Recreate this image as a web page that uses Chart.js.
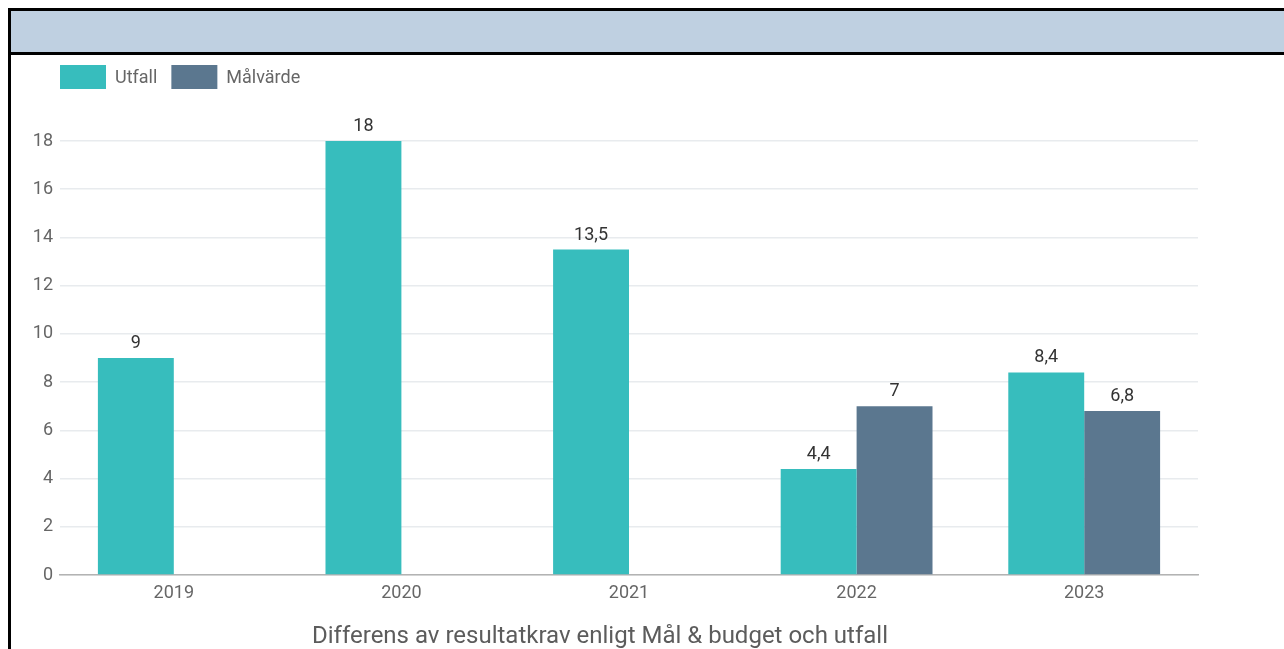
<!DOCTYPE html>
<html>
<head>
<meta charset="utf-8">
<script src="https://cdn.jsdelivr.net/npm/chart.js@4.4.0/dist/chart.umd.min.js"></script>
<style>
  html, body { margin: 0; padding: 0; background: #ffffff; overflow: hidden; width: 1284px; height: 649px; }
  #frame { position: absolute; left: 8px; top: 8px; width: 1400px; height: 800px; border-left: 3px solid #000; border-top: 3px solid #000; box-sizing: content-box; }
  #header { position: absolute; left: 0; top: 0; width: 100%; height: 41px; background: #BFD0E1; border-bottom: 3px solid #000; }
  #wrap { position: absolute; left: 11px; top: 55px; width: 1273px; height: 594px; }
</style>
</head>
<body>
<div id="frame"><div id="header"></div></div>
<div id="wrap"><canvas id="c" width="1273" height="594"></canvas></div>
<script>
const categories = ['2019', '2020', '2021', '2022', '2023'];
const utfall = [9, 18, 13.5, 4.4, 8.4];
const malvarde = [null, null, null, 7, 6.8];
const yTicks = [0, 2, 4, 6, 8, 10, 12, 14, 16, 18];
const seriesNames = ['Utfall', 'Målvärde'];
const chartTitle = 'Differens av resultatkrav enligt Mål & budget och utfall';

const FONT = 'Roboto, "Noto Sans", sans-serif';
const fmt = v => String(v).replace('.', ',');

const customLegend = {
  id: 'customLegend',
  afterDraw(chart) {
    const ctx = chart.ctx;
    ctx.save();
    ctx.font = '18px ' + FONT;
    ctx.textBaseline = 'middle';
    let x = 49;
    const y = 10, bw = 46, bh = 24;
    chart.data.datasets.forEach(ds => {
      ctx.fillStyle = ds.backgroundColor;
      ctx.fillRect(x, y, bw, bh);
      ctx.fillStyle = '#666666';
      ctx.textAlign = 'left';
      ctx.fillText(ds.label, x + bw + 9, y + bh / 2 + 1);
      x += bw + 9 + ctx.measureText(ds.label).width + 14;
    });
    ctx.restore();
  }
};

const dataLabels = {
  id: 'dataLabels',
  afterDatasetsDraw(chart) {
    const ctx = chart.ctx;
    ctx.save();
    ctx.font = '18px ' + FONT;
    ctx.fillStyle = '#333333';
    ctx.textAlign = 'center';
    ctx.textBaseline = 'alphabetic';
    chart.data.datasets.forEach((ds, i) => {
      const meta = chart.getDatasetMeta(i);
      meta.data.forEach((bar, j) => {
        const v = ds.data[j];
        if (v === null || v === undefined) return;
        ctx.fillText(fmt(v), bar.x, bar.y - 10);
      });
    });
    ctx.restore();
  }
};

const bottomTitle = {
  id: 'bottomTitle',
  afterDraw(chart) {
    const ctx = chart.ctx;
    ctx.save();
    ctx.font = '24px ' + FONT;
    ctx.fillStyle = '#5c5c5c';
    ctx.textAlign = 'center';
    ctx.textBaseline = 'alphabetic';
    ctx.fillText(chartTitle, 589, 588);
    ctx.restore();
  }
};

new Chart(document.getElementById('c'), {
  type: 'bar',
  data: {
    labels: categories,
    datasets: [
      { label: seriesNames[0], data: utfall, backgroundColor: '#37BDBD', borderWidth: 0 },
      { label: seriesNames[1], data: malvarde, backgroundColor: '#5B778F', borderWidth: 0 }
    ]
  },
  options: {
    responsive: false,
    animation: false,
    layout: { padding: { top: 86, left: 0, right: 86, bottom: 0 } },
    datasets: { bar: { categoryPercentage: 0.667, barPercentage: 1.0 } },
    plugins: {
      legend: { display: false },
      title: { display: false },
      tooltip: { enabled: false }
    },
    scales: {
      x: {
        grid: { display: false, drawTicks: false },
        border: { display: true, color: '#b3b3b3', width: 1.5 },
        ticks: { color: '#666666', font: { family: FONT, size: 18 }, padding: 8 },
        afterFit: s => { s.height = 74; }
      },
      y: {
        min: 0, max: 18,
        afterBuildTicks: s => { s.ticks = yTicks.map(v => ({ value: v })); },
        grid: { color: '#e8ebee', lineWidth: 1.5, drawTicks: false },
        border: { display: false },
        ticks: { color: '#666666', font: { family: FONT, size: 18 }, padding: 7, callback: v => fmt(v) },
        afterFit: s => { s.width = 49; }
      }
    }
  },
  plugins: [customLegend, dataLabels, bottomTitle]
});
</script>
</body>
</html>
